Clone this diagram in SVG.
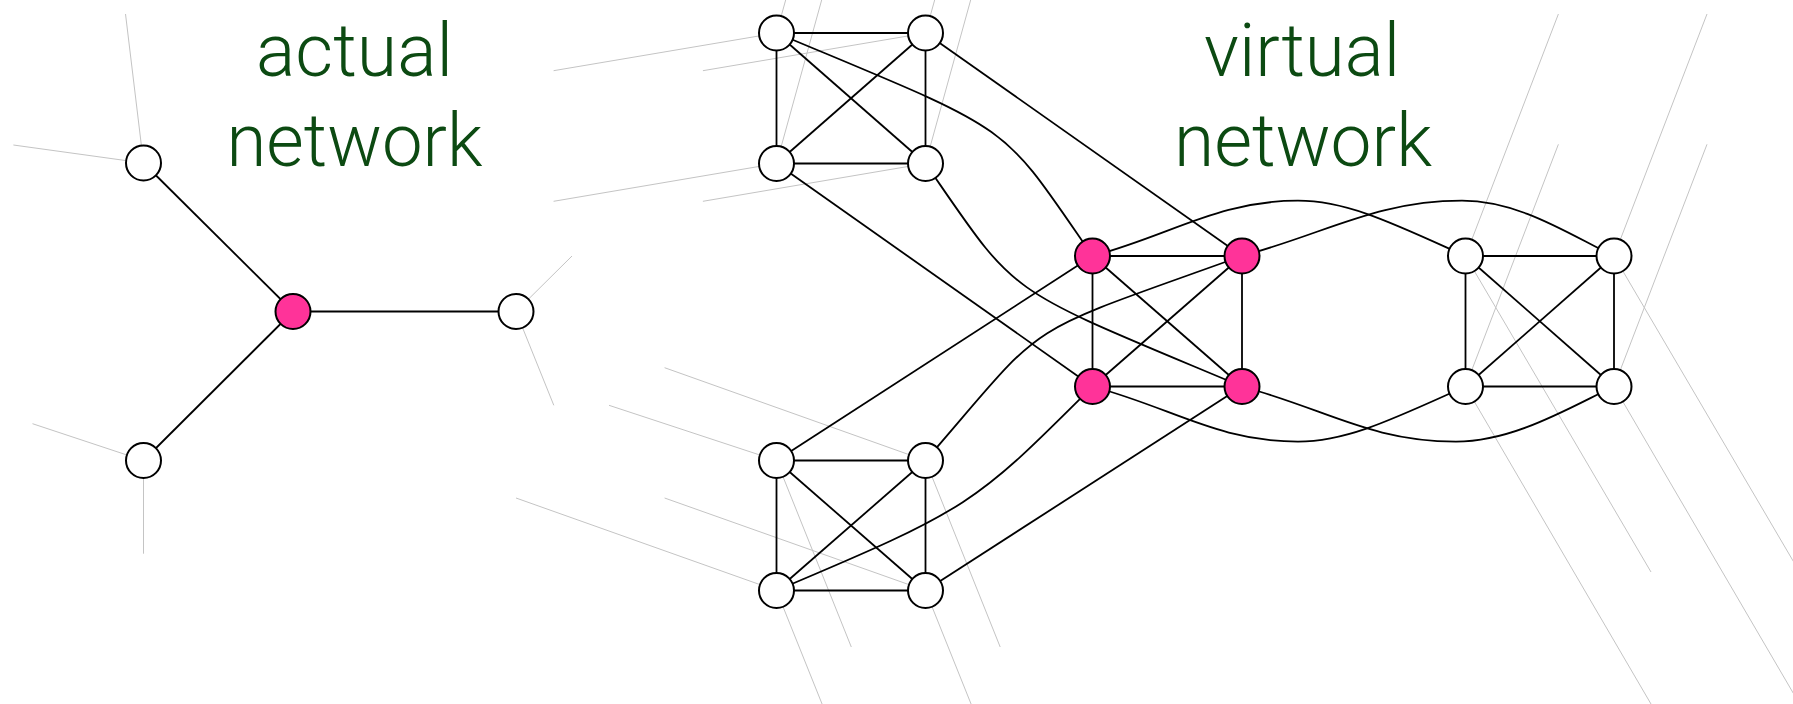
<svg xmlns="http://www.w3.org/2000/svg" width="1793" height="704" viewBox="0 0 1793 704">
  <style>
    .proj { stroke: #c4c4c4; stroke-width: 1; fill: none; }
    .edge { stroke: #000; stroke-width: 1.8; fill: none; }
    .node { fill: #fff; stroke: #000; stroke-width: 2; }
    .hot  { fill: #ff3399; }
    .label { font-family: Roboto, "Liberation Sans", sans-serif; font-weight: 300; font-size: 75px; fill: #0c4a12; text-anchor: middle; }
  </style>
  <rect width="1793" height="704" fill="#fff"/>

  <!-- titles -->
  <g id="title-actual">
    <text class="label" x="354.5" y="76" textLength="197" lengthAdjust="spacingAndGlyphs">actual</text>
    <text class="label" x="354.5" y="166" textLength="256" lengthAdjust="spacingAndGlyphs">network</text>
  </g>
  <g id="title-virtual">
    <text class="label" x="1302" y="76" textLength="196" lengthAdjust="spacingAndGlyphs">virtual</text>
    <text class="label" x="1303" y="166" textLength="258" lengthAdjust="spacingAndGlyphs">network</text>
  </g>

  <!-- faint projection strokes -->
  <g id="projections" class="proj">
    <line x1="143.5" y1="163" x2="125.5" y2="14"/>
    <line x1="143.5" y1="163" x2="13.4" y2="145"/>
    <line x1="516" y1="311.5" x2="572" y2="256"/>
    <line x1="516" y1="311.5" x2="553.8" y2="405.3"/>
    <line x1="143.5" y1="460.5" x2="32.5" y2="423.7"/>
    <line x1="143.5" y1="460.5" x2="143.5" y2="553.7"/>

    <line x1="776.5" y1="33" x2="553.6" y2="70.7"/>
    <line x1="925.5" y1="33" x2="702.9" y2="70.7"/>
    <line x1="776.5" y1="163.5" x2="553.6" y2="201.3"/>
    <line x1="925.5" y1="163.5" x2="702.9" y2="201.3"/>
    <line x1="776.5" y1="33" x2="786.5" y2="-3"/>
    <line x1="925.5" y1="33" x2="935.5" y2="-3"/>
    <line x1="776.5" y1="163.5" x2="822.5" y2="-3"/>
    <line x1="925.5" y1="163.5" x2="971.5" y2="-3"/>

    <line x1="776.5" y1="460.5" x2="609" y2="405.3"/>
    <line x1="925.5" y1="460.5" x2="664.6" y2="367.7"/>
    <line x1="776.5" y1="590.5" x2="516" y2="498"/>
    <line x1="925.5" y1="590.5" x2="664.6" y2="498"/>
    <line x1="776.5" y1="460.5" x2="851.3" y2="647"/>
    <line x1="925.5" y1="460.5" x2="1000.2" y2="647"/>
    <line x1="776.5" y1="590.5" x2="826.5" y2="715"/>
    <line x1="925.5" y1="590.5" x2="975.5" y2="715"/>

    <line x1="1465.5" y1="256" x2="1558.4" y2="14"/>
    <line x1="1614" y1="256" x2="1707" y2="14"/>
    <line x1="1465.5" y1="386.5" x2="1558.4" y2="144.3"/>
    <line x1="1614" y1="386.5" x2="1707" y2="144.3"/>
    <line x1="1465.5" y1="256" x2="1651" y2="572"/>
    <line x1="1614" y1="256" x2="1799.6" y2="572"/>
    <line x1="1465.5" y1="386.5" x2="1651" y2="704"/>
    <line x1="1614" y1="386.5" x2="1799.6" y2="704"/>
  </g>

  <!-- links -->
  <g id="connectors" class="edge">
    <!-- actual network -->
    <line x1="143.5" y1="163" x2="293" y2="311.5"/>
    <line x1="293" y1="311.5" x2="516" y2="311.5"/>
    <line x1="293" y1="311.5" x2="143.5" y2="460.5"/>

    <!-- upper-left group -->
    <line x1="776.5" y1="33" x2="925.5" y2="33"/>
    <line x1="776.5" y1="163.5" x2="925.5" y2="163.5"/>
    <line x1="776.5" y1="33" x2="776.5" y2="163.5"/>
    <line x1="925.5" y1="33" x2="925.5" y2="163.5"/>
    <line x1="776.5" y1="33" x2="925.5" y2="163.5"/>
    <line x1="925.5" y1="33" x2="776.5" y2="163.5"/>

    <!-- lower-left group -->
    <line x1="776.5" y1="460.5" x2="925.5" y2="460.5"/>
    <line x1="776.5" y1="590.5" x2="925.5" y2="590.5"/>
    <line x1="776.5" y1="460.5" x2="776.5" y2="590.5"/>
    <line x1="925.5" y1="460.5" x2="925.5" y2="590.5"/>
    <line x1="776.5" y1="460.5" x2="925.5" y2="590.5"/>
    <line x1="925.5" y1="460.5" x2="776.5" y2="590.5"/>

    <!-- centre group -->
    <line x1="1092.5" y1="256" x2="1242" y2="256"/>
    <line x1="1092.5" y1="386.5" x2="1242" y2="386.5"/>
    <line x1="1092.5" y1="256" x2="1092.5" y2="386.5"/>
    <line x1="1242" y1="256" x2="1242" y2="386.5"/>
    <line x1="1092.5" y1="256" x2="1242" y2="386.5"/>
    <line x1="1242" y1="256" x2="1092.5" y2="386.5"/>

    <!-- right group -->
    <line x1="1465.5" y1="256" x2="1614" y2="256"/>
    <line x1="1465.5" y1="386.5" x2="1614" y2="386.5"/>
    <line x1="1465.5" y1="256" x2="1465.5" y2="386.5"/>
    <line x1="1614" y1="256" x2="1614" y2="386.5"/>
    <line x1="1465.5" y1="256" x2="1614" y2="386.5"/>
    <line x1="1614" y1="256" x2="1465.5" y2="386.5"/>

    <!-- upper-left group to centre -->
    <line x1="925.5" y1="33" x2="1242" y2="256"/>
    <line x1="776.5" y1="163.5" x2="1092.5" y2="386.5"/>
    <path d="M776.5,33 C1019.4,134.8 997.6,118.3 1092.5,256"/>
    <path d="M925.5,163.5 C1020.5,300.9 998.8,284.4 1242,386.5"/>

    <!-- lower-left group to centre -->
    <line x1="776.5" y1="460.5" x2="1092.5" y2="256"/>
    <line x1="925.5" y1="590.5" x2="1242" y2="386.5"/>
    <path d="M925.5,460.5 C1052.1,314.8 1012.1,338.7 1242,256"/>
    <path d="M776.5,590.5 C970.3,508.8 974.6,504.3 1092.5,386.5"/>

    <!-- centre to right group -->
    <path d="M1092.5,256 C1172.6,234.4 1218,200.7 1298,200.7 C1348,200.7 1395.4,224.5 1465.5,256"/>
    <path d="M1242,256 C1326.8,233 1377,200.7 1462,200.7 C1520,200.7 1570,235 1614,256"/>
    <path d="M1092.5,386.5 C1172.6,407.9 1218,441.6 1298,441.6 C1348,441.6 1395.4,417.8 1465.5,386.5"/>
    <path d="M1242,386.5 C1326.8,409.3 1371,441.6 1456,441.6 C1514,441.6 1570,407.3 1614,386.5"/>
  </g>

  <!-- actual network nodes -->
  <g id="a1"><circle class="node" cx="143.5" cy="163" r="17.5"/></g>
  <g id="a2"><circle class="node hot" cx="293" cy="311.5" r="17.5"/></g>
  <g id="a3"><circle class="node" cx="516" cy="311.5" r="17.5"/></g>
  <g id="a4"><circle class="node" cx="143.5" cy="460.5" r="17.5"/></g>

  <!-- virtual network nodes -->
  <g id="ul1"><circle class="node" cx="776.5" cy="33" r="17.5"/></g>
  <g id="ul2"><circle class="node" cx="925.5" cy="33" r="17.5"/></g>
  <g id="ul3"><circle class="node" cx="776.5" cy="163.5" r="17.5"/></g>
  <g id="ul4"><circle class="node" cx="925.5" cy="163.5" r="17.5"/></g>

  <g id="ll1"><circle class="node" cx="776.5" cy="460.5" r="17.5"/></g>
  <g id="ll2"><circle class="node" cx="925.5" cy="460.5" r="17.5"/></g>
  <g id="ll3"><circle class="node" cx="776.5" cy="590.5" r="17.5"/></g>
  <g id="ll4"><circle class="node" cx="925.5" cy="590.5" r="17.5"/></g>

  <g id="c1"><circle class="node hot" cx="1092.5" cy="256" r="17.5"/></g>
  <g id="c2"><circle class="node hot" cx="1242" cy="256" r="17.5"/></g>
  <g id="c3"><circle class="node hot" cx="1092.5" cy="386.5" r="17.5"/></g>
  <g id="c4"><circle class="node hot" cx="1242" cy="386.5" r="17.5"/></g>

  <g id="r1"><circle class="node" cx="1465.5" cy="256" r="17.5"/></g>
  <g id="r2"><circle class="node" cx="1614" cy="256" r="17.5"/></g>
  <g id="r3"><circle class="node" cx="1465.5" cy="386.5" r="17.5"/></g>
  <g id="r4"><circle class="node" cx="1614" cy="386.5" r="17.5"/></g>
</svg>
